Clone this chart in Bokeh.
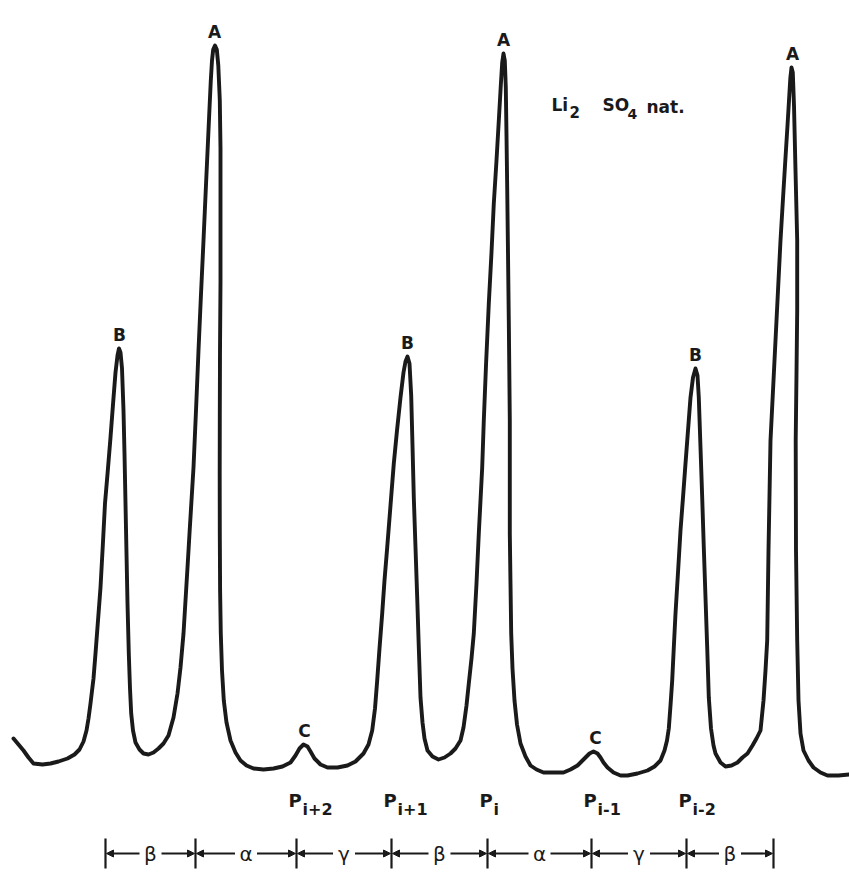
from bokeh.plotting import figure
from bokeh.models import Range1d, ColumnDataSource, Arrow, NormalHead
from bokeh.core.properties import value
from bokeh.embed import file_html
from bokeh.resources import INLINE

trace_x = [13, 18, 23, 28, 33, 42, 50, 58, 67, 74, 79, 83, 86, 88, 90, 93, 95, 97.5, 100, 102.3,
           104.5, 107.3, 110, 112.8, 115, 117, 118.5, 120, 121.5, 123, 124, 125, 126, 127, 128.3, 129.5,
           130.7, 132.5, 135, 139, 143, 148, 153, 158, 163, 168, 173, 177, 180, 183, 185, 187, 189,
           191, 193, 195.5, 198, 200.3, 203, 205.6, 207.3, 208.8, 210.3, 211.5, 212.7, 214.5, 216.3, 217.8,
           219.3, 220, 220, 220, 219.5, 219.3, 219.2, 219.3, 219.6, 220.3, 221.5, 223.3, 226, 230,
           235, 240, 246, 253, 263, 273, 282, 290, 295, 299, 303, 307, 310, 314, 320, 327, 337, 347,
           355, 363, 368, 371.7, 374.5, 376.7, 379, 381.7, 384, 386.7, 390, 393.3, 396.5, 400, 403,
           405, 407, 409, 410.7, 412, 413.3, 415, 416.7, 418.3, 420, 422, 424, 427, 432, 438, 444,
           450, 455, 460, 463, 466, 468.3, 471, 473.3, 476, 478.3, 480, 481.7, 483.3, 485.5, 488.3,
           491, 493.3, 496, 498.3, 500.3, 501.7, 503, 504.3, 505.3, 506, 506.7, 507.5, 508.3, 508.8, 509.3,
           509.3, 509.3, 510, 510.7, 512, 514, 516.5, 520, 525, 530, 536, 543, 553, 563, 570, 577,
           581, 585, 589, 593, 597, 600, 603, 607, 613, 620, 627, 637, 647, 654, 660, 664, 666.5,
           668.3, 670, 671.7, 673.3, 675, 677.5, 680, 682.5, 685, 687.5, 690, 692.5, 695, 697, 698.3,
           700, 701.7, 703.3, 705, 706.7, 708.3, 710.5, 713, 715, 720, 725, 731, 737, 742, 747, 752,
           756, 760, 763, 765, 766.7, 768, 770, 772.5, 775, 777.5, 780, 782.5, 785, 787, 788.5, 789.8,
           791, 792.3, 793.5, 795, 796.7, 796.7, 796, 795.2, 795.5, 796.7, 798, 800, 803, 808, 813,
           820, 827, 838, 849]
trace_y = [738, 744, 750, 757, 763, 764, 763, 761, 758, 754, 749, 741, 730, 718, 703, 678, 653,
           620, 587, 545, 503, 470, 437, 400, 372, 355, 348, 352, 368, 410, 453, 503, 553, 603, 653,
           688, 713, 730, 742, 749, 753, 754, 752, 748, 743, 735, 717, 693, 667, 633, 600, 567, 533,
           500, 467, 410, 350, 298, 240, 182, 145, 112, 80, 60, 49, 45, 49, 65, 100, 148, 215, 282,
           350, 415, 475, 533, 590, 633, 670, 700, 722, 740, 752, 760, 765, 768, 769, 768, 766, 762,
           755, 748, 744, 746, 751, 758, 764, 767, 767, 765, 761, 753, 744, 730, 708, 680, 648, 613,
           580, 547, 505, 463, 430, 397, 372, 361, 356, 363, 395, 445, 497, 547, 597, 647, 697, 722,
           738, 750, 756, 759, 757, 753, 748, 740, 727, 705, 683, 658, 633, 583, 533, 500, 467, 420,
           365, 303, 252, 203, 160, 120, 85, 62, 53, 60, 87, 135, 187, 253, 320, 370, 420, 480, 533,
           583, 633, 668, 700, 724, 743, 756, 765, 769, 772, 772, 772, 769, 765, 761, 757, 753, 751,
           753, 757, 762, 767, 772, 775, 775, 773, 770, 766, 760, 750, 740, 728, 705, 680, 647, 613,
           572, 530, 497, 463, 430, 397, 377, 368, 375, 397, 447, 497, 547, 597, 647, 697, 728, 745,
           753, 762, 766, 765, 762, 757, 753, 745, 738, 730, 700, 670, 640, 550, 440, 390, 340, 290,
           240, 198, 157, 125, 100, 78, 67, 72, 105, 170, 240, 310, 373, 440, 550, 640, 700, 733,
           750, 760, 767, 772, 775, 775, 774]

# ---- peak labels ----
peak_names = ["B", "A", "C", "B", "A", "C", "B", "A"]
peak_x = [119, 214, 304, 407, 503, 595, 695, 792]
peak_top = [348, 45, 744, 356, 53, 751, 368, 67]

# ---- period markers below the trace ----
bounds = [105, 195, 296, 391, 487, 591, 686, 773]
interval_labels = ["β", "α", "γ", "β", "α", "γ", "β"]
p_names = ["P", "P", "P", "P", "P"]
p_subs = ["i+2", "i+1", "i", "i-1", "i-2"]
p_at = [296, 391, 487, 591, 686]

W, H = 849, 873
p = figure(width=W, height=H, x_range=Range1d(0, W), y_range=Range1d(H, 0),
           output_backend="svg", toolbar_location=None, min_border=0,
           x_axis_location=None, y_axis_location=None)
p.grid.visible = False
p.outline_line_color = None
p.background_fill_color = "white"
p.border_fill_color = "white"

ink = "#1a1a1a"
# trace
p.line(trace_x, trace_y, line_color=ink, line_width=3.9, line_join="round", line_cap="round")

font = value("DejaVu Sans")
# peak letters
p.text(x=peak_x, y=peak_top, text=peak_names, text_font=font, text_font_style="bold",
       text_font_size="17px", text_align="center", text_baseline="bottom", y_offset=-4,
       text_color=ink)

# sample label  Li2 SO4 nat.
lab_y = 104
def piece(x, y, s, size):
    p.text(x=[x], y=[y], text=[s], text_font=font, text_font_style="bold",
           text_font_size=size, text_align="left", text_baseline="middle", text_color=ink)
piece(551, lab_y, "Li", "17px")
piece(569, lab_y + 7, "2", "15px")
piece(602, lab_y, "SO", "17px")
piece(627, lab_y + 9, "4", "14px")
piece(646, lab_y + 2, "nat.", "17px")

# P labels
p.text(x=p_at, y=[800] * len(p_at), text=p_names, text_font=font, text_font_style="bold",
       text_font_size="18px", text_align="left", text_baseline="middle", x_offset=-8,
       text_color=ink)
p.text(x=p_at, y=[809] * len(p_at), text=p_subs, text_font=font, text_font_style="bold",
       text_font_size="16px", text_align="left", text_baseline="middle", x_offset=6,
       text_color=ink)

# period bars and arrows
row = 853
p.segment(x0=bounds, y0=[row - 15] * len(bounds), x1=bounds, y1=[row + 15] * len(bounds),
          line_color=ink, line_width=2.2)
mids = [(a + b) / 2 for a, b in zip(bounds[:-1], bounds[1:])]
p.text(x=mids, y=[row] * len(mids), text=interval_labels, text_font=font,
       text_font_size="20px", text_align="center", text_baseline="middle", text_color=ink)
gap = 11
xs, xe = [], []
for a, b, m in zip(bounds[:-1], bounds[1:], mids):
    xs += [m - gap, m + gap]
    xe += [a + 1, b - 1]
src = ColumnDataSource(dict(xs=xs, xe=xe, ys=[row] * len(xs), ye=[row] * len(xs)))
p.add_layout(Arrow(x_start="xs", y_start="ys", x_end="xe", y_end="ye", source=src,
                   line_color=ink, line_width=2.2,
                   end=NormalHead(size=7, fill_color=ink, line_color=ink)))

open("out.html", "w").write(file_html(p, INLINE))
